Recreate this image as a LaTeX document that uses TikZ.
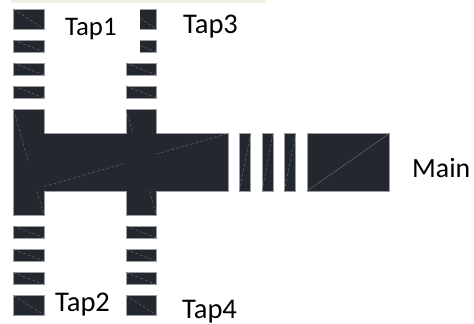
\documentclass[tikz,border=0pt]{standalone}
\usepackage{fontspec}
\setmainfont{Carlito}
\usetikzlibrary{calc,positioning}
\definecolor{padfill}{HTML}{23282F}
\definecolor{padedge}{HTML}{9A9DA1}
\definecolor{padline}{HTML}{6E7277}
\definecolor{topband}{HTML}{EFF2E2}
\tikzset{
  pad/.style={fill=padfill,draw=padedge,line width=0.5pt},
  hatch/.style={draw=padline,line width=0.4pt,densely dashed},
  taplabel/.style={anchor=base west,inner sep=0pt,font=\fontsize{28.5}{28.5}\selectfont}
}
\begin{document}
\begin{tikzpicture}[x=1pt,y=-1pt]
    \useasboundingbox (0,0) rectangle (474,324);
    \fill[topband] (11,0) rectangle (266,3);

    % tap stubs, left column
    \foreach \ya/\yb in {9/29,40/52,63/75,86/98,226/238,249.5/261,272.5/284.5,295.5/315}{
        \draw[pad] (13.5,\ya) rectangle (44,\yb);
        \draw[hatch] (13.5,\ya) -- (44,\yb);
    }
    % tap stubs, right column
    \foreach \ya/\yb in {63/75,86/98,226/238,249.5/261,272.5/284.5,295.5/315}{
        \draw[pad] (126,\ya) rectangle (156.5,\yb);
        \draw[hatch] (126,\ya) -- (156.5,\yb);
    }
    \foreach \ya/\yb in {9/29,40/52}{
        \fill[padfill] (140,\ya) rectangle (156.5,\yb);
        \draw[padedge,line width=0.5pt] (140,\ya) -- (156.5,\ya) -- (156.5,\yb) -- (140,\yb);
        \draw[hatch] (140,{\ya+0.46*(\yb-\ya)}) -- (156.5,\yb);
    }

    % the cross with the main bar
    \draw[pad] (13.5,109.5) -- (44,109.5) -- (44,133.5) -- (126,133.5) -- (126,109.5)
        -- (156.5,109.5) -- (156.5,133.5) -- (228,133.5) -- (228,191) -- (156.5,191)
        -- (156.5,215) -- (126,215) -- (126,191) -- (44,191) -- (44,215) -- (13.5,215) -- cycle;
    \draw[hatch] (13.5,109.5) -- (28.5,162.5);
    \draw[hatch] (37,191) -- (44,215);
    \draw[hatch] (44,186.5) -- (126,163);
    \draw[hatch] (126,109.5) -- (133,133.5);
    \draw[hatch] (149.5,191) -- (156.5,215);
    \draw[hatch] (156.5,154) -- (228,133.5);

    % slots and end of the main line
    \foreach \xa/\xb in {239.5/250.5,262/273,284.5/295.5}{
        \draw[pad] (\xa,133.5) rectangle (\xb,191);
        \draw[hatch] (\xa,191) -- (\xb,133.5);
    }
    \draw[pad] (307,133.5) rectangle (389.5,191);
    \draw[padline,line width=0.4pt] (307,191) -- (389.5,133.5);

    \node[taplabel,font=\fontsize{26.8}{26.8}\selectfont] (tapA) at (65,35) {Tap1};
    \node[taplabel] (tapB) at (55,311) {Tap2};
    \node[taplabel] (tapC) at (183,33) {Tap3};
    \node[taplabel] (tapD) at (182,318) {Tap4};
    \node[taplabel,font=\fontsize{27.8}{27.8}\selectfont] (mainL) at (412,177) {Main};
\end{tikzpicture}
\end{document}
